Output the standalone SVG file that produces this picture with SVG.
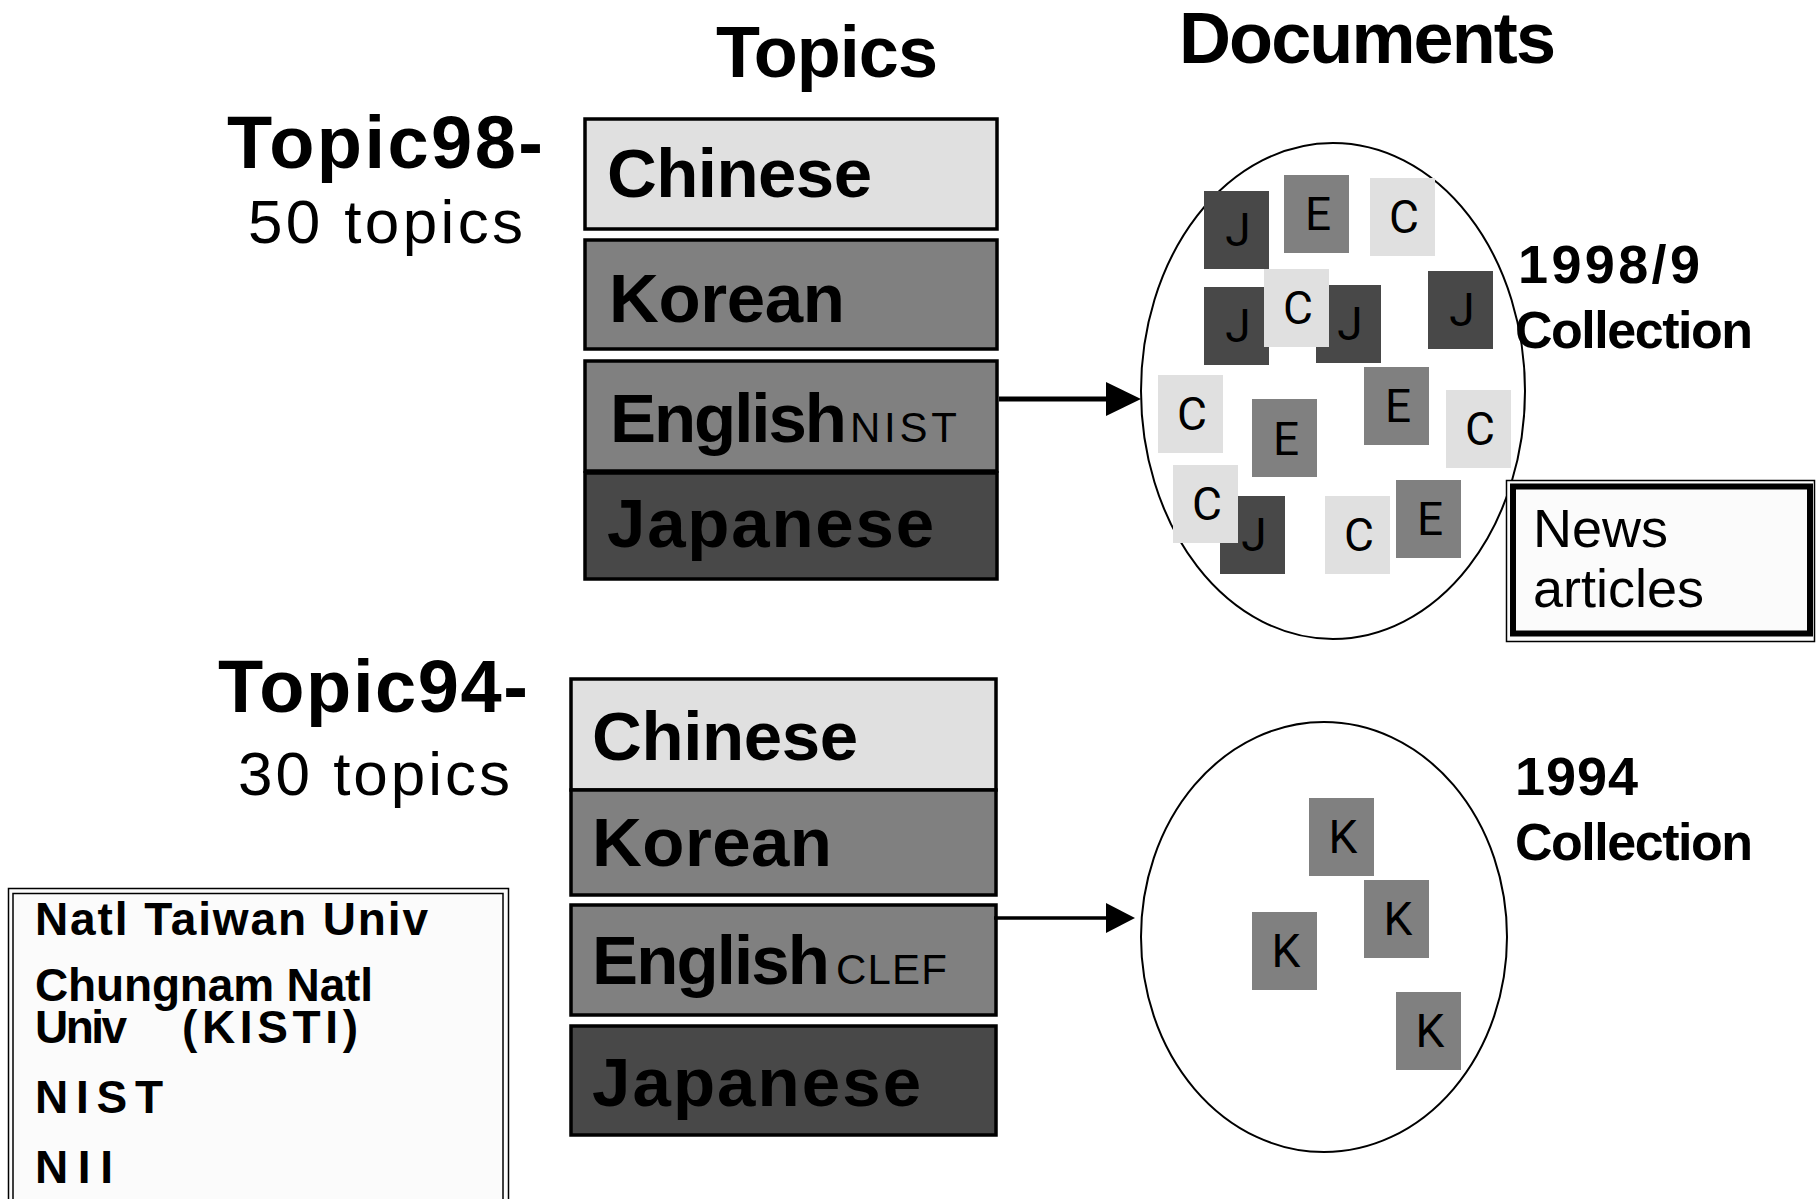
<svg xmlns="http://www.w3.org/2000/svg" width="1816" height="1199" viewBox="0 0 1816 1199">
<style>
.b{font-family:"Liberation Sans",Arial,sans-serif;font-weight:bold;fill:#000}
.r{font-family:"Liberation Sans",Arial,sans-serif;font-weight:normal;fill:#000}
.lang{font-size:69px}
.sub{font-size:42px}
.box{stroke:#000;stroke-width:3.5}
.lt{fill:#e0e0e0}
.md{fill:#808080}
.dk{fill:#484848}
.doc{font-family:Roboto,"Liberation Sans",sans-serif;font-size:46px;fill:#000;text-anchor:middle}
.ell{fill:#fff;stroke:#000;stroke-width:2}
</style>
<defs>
<marker id="ah1" markerUnits="userSpaceOnUse" markerWidth="36" markerHeight="34" refX="0" refY="17" orient="auto">
<path d="M0,0 L35,17 L0,34 z" fill="#000"/>
</marker>
<marker id="ah2" markerUnits="userSpaceOnUse" markerWidth="30" markerHeight="30" refX="0" refY="15" orient="auto">
<path d="M0,0 L29,15 L0,30 z" fill="#000"/>
</marker>
</defs>
<rect width="1816" height="1199" fill="#fff"/>

<g id="headers">
<text class="b" x="716" y="77" font-size="72" textLength="222">Topics</text>
<text class="b" x="1179" y="63" font-size="72" textLength="377">Documents</text>
</g>

<g id="label-topic98">
<text class="b" x="227" y="168" font-size="74" textLength="316">Topic98-</text>
<text class="r" x="248" y="243" font-size="62" textLength="275">50 topics</text>
</g>

<g id="label-topic94">
<text class="b" x="218" y="712" font-size="74" textLength="310">Topic94-</text>
<text class="r" x="238" y="795" font-size="62" textLength="272">30 topics</text>
</g>

<g id="topic98-boxes">
<g id="t98-chinese"><rect class="box lt" x="585" y="119" width="412" height="110"/><text class="b lang" x="607" y="197" textLength="265">Chinese</text></g>
<g id="t98-korean"><rect class="box md" x="585" y="240" width="412" height="109"/><text class="b lang" x="609" y="322" textLength="236">Korean</text></g>
<g id="t98-english"><rect class="box md" x="585" y="361" width="412" height="110"/><text class="b lang" x="610" y="442" textLength="237">English</text><text class="r sub" x="850" y="442" textLength="107">NIST</text></g>
<g id="t98-japanese"><rect class="box dk" x="585" y="473" width="412" height="106"/><text class="b lang" x="607" y="547" textLength="327">Japanese</text></g>
</g>

<g id="topic94-boxes">
<g id="t94-chinese"><rect class="box lt" x="571" y="679" width="425" height="111"/><text class="b lang" x="592" y="760" textLength="266">Chinese</text></g>
<g id="t94-korean"><rect class="box md" x="571" y="790" width="425" height="105"/><text class="b lang" x="592" y="866" textLength="240">Korean</text></g>
<g id="t94-english"><rect class="box md" x="571" y="905" width="425" height="110"/><text class="b lang" x="592" y="984" textLength="238">English</text><text class="r sub" x="836" y="984" textLength="111">CLEF</text></g>
<g id="t94-japanese"><rect class="box dk" x="571" y="1026" width="425" height="109"/><text class="b lang" x="592" y="1106" textLength="329">Japanese</text></g>
</g>

<g id="connectors">
<line x1="999" y1="399" x2="1106" y2="399" stroke="#000" stroke-width="5" marker-end="url(#ah1)"/>
<line x1="994" y1="918" x2="1106" y2="918" stroke="#000" stroke-width="3.5" marker-end="url(#ah2)"/>
</g>

<g id="collection-1998">
<ellipse class="ell" cx="1333" cy="391" rx="192" ry="248"/>
<g id="d1"><rect class="dk" x="1204" y="191" width="65" height="78"/><text class="doc" x="1238" y="246">J</text></g>
<g id="d2"><rect class="md" x="1284" y="175" width="65" height="78"/><text class="doc" x="1318" y="230">E</text></g>
<g id="d3"><rect class="lt" x="1370" y="178" width="65" height="78"/><text class="doc" x="1404" y="233">C</text></g>
<g id="d4"><rect class="dk" x="1204" y="287" width="65" height="78"/><text class="doc" x="1238" y="342">J</text></g>
<g id="d5"><rect class="dk" x="1316" y="285" width="65" height="78"/><text class="doc" x="1350" y="340">J</text></g>
<g id="d6"><rect class="lt" x="1264" y="269" width="65" height="78"/><text class="doc" x="1298" y="324">C</text></g>
<g id="d7"><rect class="dk" x="1428" y="271" width="65" height="78"/><text class="doc" x="1462" y="326">J</text></g>
<g id="d8"><rect class="lt" x="1158" y="375" width="65" height="78"/><text class="doc" x="1192" y="430">C</text></g>
<g id="d9"><rect class="md" x="1252" y="399" width="65" height="78"/><text class="doc" x="1286" y="455">E</text></g>
<g id="d10"><rect class="md" x="1364" y="367" width="65" height="78"/><text class="doc" x="1398" y="422">E</text></g>
<g id="d11"><rect class="lt" x="1446" y="390" width="65" height="78"/><text class="doc" x="1480" y="445">C</text></g>
<g id="d12"><rect class="dk" x="1220" y="496" width="65" height="78"/><text class="doc" x="1254" y="551">J</text></g>
<g id="d13"><rect class="lt" x="1173" y="465" width="65" height="78"/><text class="doc" x="1207" y="520">C</text></g>
<g id="d14"><rect class="lt" x="1325" y="496" width="65" height="78"/><text class="doc" x="1359" y="551">C</text></g>
<g id="d15"><rect class="md" x="1396" y="480" width="65" height="78"/><text class="doc" x="1430" y="535">E</text></g>
</g>

<g id="label-1998">
<text class="b" x="1518" y="283" font-size="54" textLength="182">1998/9</text>
<text class="b" x="1515" y="348" font-size="52" textLength="238">Collection</text>
</g>

<g id="collection-1994">
<ellipse class="ell" cx="1324" cy="937" rx="183" ry="215"/>
<g id="k1"><rect class="md" x="1309" y="798" width="65" height="78"/><text class="doc" x="1343" y="853">K</text></g>
<g id="k2"><rect class="md" x="1364" y="880" width="65" height="78"/><text class="doc" x="1398" y="935">K</text></g>
<g id="k3"><rect class="md" x="1252" y="912" width="65" height="78"/><text class="doc" x="1286" y="967">K</text></g>
<g id="k4"><rect class="md" x="1396" y="992" width="65" height="78"/><text class="doc" x="1430" y="1047">K</text></g>
</g>

<g id="label-1994">
<text class="b" x="1515" y="795" font-size="54" textLength="123">1994</text>
<text class="b" x="1515" y="860" font-size="52" textLength="238">Collection</text>
</g>

<g id="news-articles">
<rect x="1506.5" y="480.5" width="308" height="161" fill="#fbfbfb" stroke="#000" stroke-width="1.5"/>
<rect x="1513" y="486.5" width="297" height="147" fill="#fbfbfb" stroke="#000" stroke-width="6"/>
<text class="r" x="1533" y="547" font-size="54">News</text>
<text class="r" x="1533" y="607" font-size="54">articles</text>
</g>

<g id="participants">
<rect x="8.5" y="888.5" width="500" height="320" fill="#fbfbfb" stroke="#000" stroke-width="1.5"/>
<rect x="13" y="893.5" width="490" height="310" fill="none" stroke="#000" stroke-width="1.5"/>
<text class="b" x="35" y="935" font-size="46" textLength="393">Natl Taiwan Univ</text>
<text class="b" x="35" y="1001" font-size="46" textLength="338">Chungnam Natl</text>
<text class="b" x="35" y="1043" font-size="46"><tspan textLength="92">Univ</tspan><tspan x="182" textLength="176">(KISTI)</tspan></text>
<text class="b" x="35" y="1113" font-size="46" textLength="128">NIST</text>
<text class="b" x="35" y="1183" font-size="46" textLength="78">NII</text>
</g>
</svg>
